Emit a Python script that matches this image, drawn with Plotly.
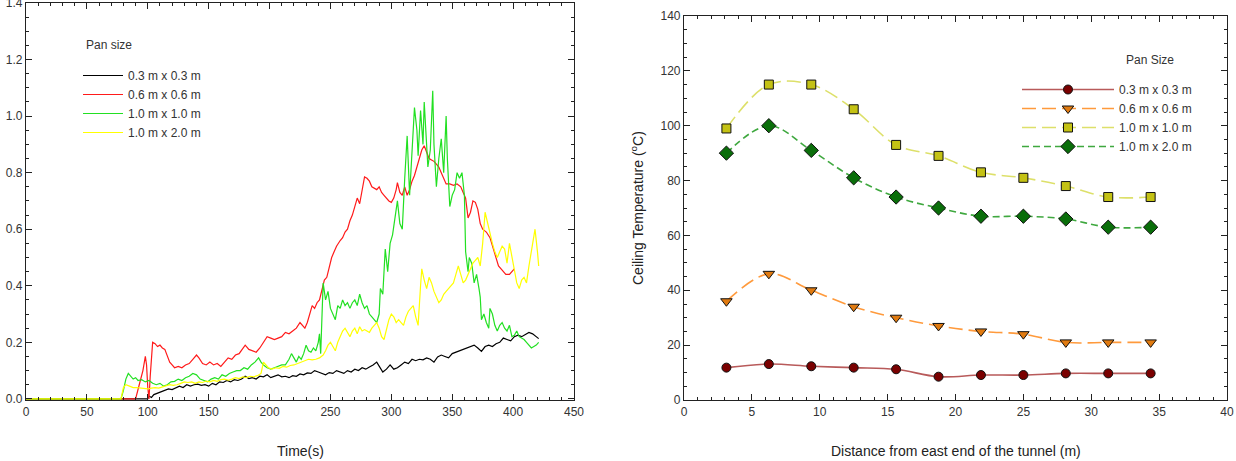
import plotly.graph_objects as go

W, H = 1236, 461

# ---------------- Left chart data (Time vs value) ----------------
t_black = [0, 100, 101, 103, 105, 108, 111, 114, 117, 120, 123, 126, 129, 132, 135, 138, 141, 144, 147, 150,
           153, 156, 159, 162, 165, 168, 171, 174, 177, 180, 183, 186, 189, 192, 195, 198, 201, 204, 207, 210,
           213, 216, 219, 222, 225, 228, 231, 234, 237, 240, 243, 246, 249, 252, 255, 258, 261, 264, 267, 270,
           273, 276, 279, 282, 285, 288, 291, 293, 296, 299, 302, 305, 308, 311, 314, 317, 320, 323, 326, 329,
           332, 335, 338, 341, 344, 347, 350, 353, 356, 359, 362, 365, 368, 371, 374, 377, 380, 383, 386, 389,
           392, 395, 398, 401, 404, 407, 410, 413, 416, 419, 421]
v_black = [0, 0, 0.01, 0.005, 0.015, 0.02, 0.025, 0.03, 0.035, 0.033, 0.04, 0.045, 0.04, 0.05, 0.045, 0.05, 0.052, 0.048, 0.05, 0.045,
           0.055, 0.05, 0.06, 0.058, 0.065, 0.06, 0.068, 0.065, 0.07, 0.08, 0.072, 0.075, 0.07, 0.08, 0.078, 0.085, 0.075, 0.08, 0.085, 0.078,
           0.08, 0.075, 0.082, 0.08, 0.088, 0.085, 0.092, 0.09, 0.1, 0.095, 0.09, 0.085, 0.093, 0.09, 0.1, 0.095, 0.09, 0.1, 0.095, 0.105,
           0.1, 0.11, 0.105, 0.113, 0.12, 0.13, 0.11, 0.095, 0.105, 0.12, 0.105, 0.11, 0.12, 0.13, 0.125, 0.14, 0.135, 0.14, 0.138, 0.145,
           0.14, 0.13, 0.148, 0.155, 0.15, 0.145, 0.16, 0.165, 0.17, 0.175, 0.18, 0.184, 0.19, 0.18, 0.168, 0.185, 0.19, 0.185, 0.195, 0.2,
           0.215, 0.21, 0.205, 0.22, 0.225, 0.22, 0.228, 0.235, 0.23, 0.22, 0.213]

t_red = [0, 90, 93, 96, 98, 99, 100, 101, 102, 104, 106, 108, 110, 112, 114, 116, 118, 120, 122, 125,
         128, 131, 134, 137, 140, 142, 145, 148, 151, 154, 157, 160, 163, 166, 169, 172, 175, 178, 180, 183,
         186, 189, 192, 195, 198, 201, 204, 207, 210, 213, 216, 219, 222, 225, 227, 229, 231, 233, 235, 237,
         239, 241, 243, 245, 247, 249, 251, 253, 255, 258, 260, 262, 264, 266, 268, 270, 272, 274, 276, 278,
         280, 282, 284, 286, 288, 290, 292, 294, 296, 298, 300, 302, 304, 305, 307, 309, 311, 313, 315, 317,
         319, 321, 323, 325, 327, 329, 331, 333, 335, 337, 339, 341, 343, 345, 348, 351, 354, 357, 359, 361,
         363, 365, 367, 369, 371, 373, 375, 378, 381, 384, 386, 388, 391, 394, 397, 399, 401]
v_red = [0, 0, 0.05, 0.1, 0.15, 0.12, 0.04, 0.0, 0.08, 0.2, 0.195, 0.185, 0.19, 0.18, 0.175, 0.15, 0.13, 0.12, 0.11, 0.115,
         0.11, 0.12, 0.125, 0.14, 0.155, 0.145, 0.125, 0.12, 0.13, 0.12, 0.125, 0.115, 0.13, 0.145, 0.14, 0.155, 0.16, 0.18, 0.19, 0.175,
         0.17, 0.165, 0.18, 0.2, 0.22, 0.215, 0.21, 0.215, 0.22, 0.235, 0.23, 0.24, 0.25, 0.27, 0.26, 0.25, 0.27, 0.3, 0.33, 0.32,
         0.34, 0.35, 0.39, 0.42, 0.43, 0.47, 0.5, 0.52, 0.54, 0.56, 0.57, 0.59, 0.6, 0.63, 0.65, 0.68, 0.71, 0.69, 0.74, 0.785,
         0.78, 0.77, 0.75, 0.745, 0.74, 0.75, 0.73, 0.72, 0.71, 0.7, 0.695, 0.71, 0.74, 0.765, 0.73, 0.72, 0.75, 0.72, 0.74, 0.77,
         0.79, 0.82, 0.85, 0.88, 0.895, 0.87, 0.85, 0.845, 0.84, 0.83, 0.82, 0.8, 0.78, 0.76, 0.76, 0.755, 0.76, 0.75, 0.73, 0.71,
         0.64, 0.66, 0.7, 0.695, 0.67, 0.62, 0.6, 0.59, 0.57, 0.53, 0.5, 0.47, 0.455, 0.44, 0.44, 0.45, 0.46]

t_green = [0, 78, 80, 82, 84, 86, 88, 90, 92, 95, 98, 101, 104, 107, 110, 113, 116, 119, 122, 125,
           128, 131, 134, 137, 140, 143, 146, 149, 152, 155, 158, 161, 164, 167, 170, 173, 176, 179, 182, 185,
           188, 191, 193, 195, 198, 201, 204, 207, 210, 213, 216, 218, 220, 222, 224, 226, 228, 230, 232, 234,
           236, 238, 240, 241, 242, 243, 244, 246, 248, 250, 252, 254, 256, 258, 260, 262, 264, 266, 268, 270,
           272, 274, 276, 278, 280, 282, 284, 286, 288, 290, 291, 293, 295, 297, 299, 301, 303, 305, 307, 309,
           311, 313, 315, 317, 319, 321, 322, 324, 326, 327, 329, 330, 332, 334, 335, 337, 339, 341, 343, 345,
           346, 348, 350, 352, 354, 356, 358, 360, 361, 363, 364, 366, 368, 370, 372, 373, 374, 376, 378, 380,
           381, 383, 385, 387, 389, 391, 393, 395, 397, 399, 401, 403, 405, 407, 409, 411, 413, 415, 417, 419, 421]
v_green = [0, 0, 0.03, 0.07, 0.09, 0.08, 0.07, 0.075, 0.065, 0.068, 0.06, 0.065, 0.055, 0.05, 0.055, 0.045, 0.05, 0.06, 0.062, 0.07,
           0.065, 0.075, 0.08, 0.09, 0.085, 0.07, 0.065, 0.06, 0.07, 0.075, 0.07, 0.085, 0.08, 0.09, 0.095, 0.1, 0.1, 0.11, 0.105, 0.12,
           0.13, 0.145, 0.13, 0.12, 0.11, 0.105, 0.11, 0.115, 0.12, 0.12, 0.14, 0.16, 0.145, 0.13, 0.15, 0.14, 0.16, 0.19, 0.17, 0.165,
           0.18, 0.17, 0.2, 0.23, 0.16, 0.3, 0.41, 0.35, 0.38, 0.32, 0.3, 0.28, 0.33, 0.32, 0.35, 0.33, 0.34, 0.32, 0.34, 0.35,
           0.33, 0.37, 0.34, 0.32, 0.33, 0.3, 0.29, 0.28, 0.27, 0.3, 0.39, 0.37, 0.53, 0.45, 0.55, 0.58, 0.65, 0.7, 0.62, 0.6,
           0.78, 0.93, 0.72, 0.88, 1.03, 0.95, 0.86, 1.02, 0.9, 1.05, 0.92, 0.82, 0.88, 1.09, 0.9, 0.75, 0.85, 0.92, 0.8, 1.0,
           0.85, 0.68, 0.72, 0.74, 0.8, 0.78, 0.8, 0.72, 0.52, 0.45, 0.5, 0.48, 0.41, 0.44, 0.39, 0.36, 0.28, 0.3, 0.27, 0.25,
           0.32, 0.3, 0.26, 0.24, 0.26, 0.27, 0.25, 0.24, 0.26, 0.22, 0.225, 0.24, 0.22, 0.215, 0.21, 0.2, 0.19, 0.18, 0.185, 0.19, 0.2]

t_yellow = [0, 78, 80, 82, 85, 88, 91, 94, 97, 100, 103, 106, 109, 112, 115, 118, 121, 124, 127, 130,
            133, 136, 139, 142, 145, 148, 151, 154, 157, 160, 163, 166, 169, 172, 175, 178, 181, 184, 187, 190,
            193, 195, 197, 199, 202, 205, 208, 211, 214, 217, 220, 223, 226, 229, 232, 235, 238, 241, 244, 246,
            248, 250, 252, 254, 256, 258, 260, 262, 264, 266, 268, 270, 272, 274, 276, 278, 280, 282, 284, 286,
            288, 290, 292, 294, 296, 298, 300, 302, 304, 306, 308, 310, 312, 314, 316, 318, 320, 322, 324, 325,
            327, 329, 331, 333, 335, 337, 339, 341, 343, 345, 347, 349, 351, 353, 355, 357, 359, 361, 363, 365,
            367, 369, 371, 373, 375, 377, 379, 381, 383, 385, 387, 389, 391, 393, 395, 397, 399, 401, 403, 405,
            407, 409, 411, 413, 415, 417, 418, 420, 421]
v_yellow = [0, 0, 0.04, 0.05, 0.045, 0.04, 0.04, 0.038, 0.035, 0.035, 0.038, 0.04, 0.038, 0.042, 0.045, 0.05, 0.048, 0.05, 0.055, 0.06,
            0.058, 0.06, 0.055, 0.06, 0.058, 0.063, 0.06, 0.065, 0.062, 0.068, 0.07, 0.066, 0.07, 0.075, 0.072, 0.078, 0.075, 0.08, 0.078, 0.082,
            0.09, 0.13, 0.12, 0.11, 0.105, 0.11, 0.108, 0.115, 0.112, 0.118, 0.12, 0.125, 0.13, 0.135, 0.14, 0.138, 0.14, 0.145, 0.155, 0.17,
            0.19, 0.2, 0.185, 0.17, 0.2, 0.22, 0.24, 0.25, 0.235, 0.22, 0.24, 0.25, 0.23, 0.255, 0.24, 0.245, 0.24, 0.235, 0.25, 0.26,
            0.27, 0.25, 0.22, 0.21, 0.25, 0.28, 0.3, 0.29, 0.27, 0.28, 0.27, 0.26, 0.29, 0.31, 0.32, 0.33, 0.29, 0.26, 0.4, 0.46,
            0.42, 0.39, 0.43, 0.41, 0.38, 0.36, 0.34, 0.35, 0.37, 0.38, 0.39, 0.4, 0.41, 0.44, 0.47, 0.44, 0.41, 0.42, 0.44, 0.46,
            0.48, 0.49, 0.5, 0.47, 0.55, 0.66, 0.62, 0.58, 0.55, 0.52, 0.5, 0.52, 0.54, 0.53, 0.48, 0.55, 0.5, 0.46, 0.41, 0.39,
            0.42, 0.43, 0.41, 0.47, 0.52, 0.56, 0.6, 0.52, 0.47]

left_names = ["0.3 m x 0.3 m", "0.6 m x 0.6 m", "1.0 m x 1.0 m", "1.0 m x 2.0 m"]
left_colors = ["#000000", "#ff1a1a", "#22e022", "#ffff00"]

# ---------------- Right chart data (Distance vs ceiling temperature) ----------------
distance = [3.125, 6.25, 9.375, 12.5, 15.625, 18.75, 21.875, 25.0, 28.125, 31.25, 34.375]
temp_03 = [11.8, 13.1, 12.3, 11.8, 11.2, 8.5, 9.1, 9.1, 9.7, 9.7, 9.7]
temp_06 = [36, 46, 40, 34, 30, 27, 25, 24, 21, 21, 21]
temp_10 = [99, 115, 115, 106, 93, 89, 83, 81, 78, 74, 74]
temp_20 = [90, 100, 91, 81, 74, 70, 67, 67, 66, 63, 63]

right_names = ["0.3 m x 0.3 m", "0.6 m x 0.6 m", "1.0 m x 1.0 m", "1.0 m x 2.0 m"]

FONT = "Liberation Sans, Arial, sans-serif"

fig = go.Figure()

left_t = [t_black, t_red, t_green, t_yellow]
left_v = [v_black, v_red, v_green, v_yellow]
for t, v, n, c in zip(left_t, left_v, left_names, left_colors):
    fig.add_trace(go.Scatter(x=t, y=v, mode="lines", name=n,
                             line=dict(color=c, width=1.2),
                             xaxis="x", yaxis="y", legend="legend"))

right_series = [temp_03, temp_06, temp_10, temp_20]
line_colors = ["#b85a5a", "#ff9a3c", "#dde06a", "#3fa83f"]
marker_colors = ["#7a0000", "#e07a10", "#c4c214", "#0a6e0a"]
symbols = ["circle", "triangle-down", "square", "diamond"]
dashes = ["solid", "14px,6px", "14px,6px", "7px,4px"]
sizes = [9, 10, 9, 11]
for y, n, lc, mc, s, d, sz in zip(right_series, right_names, line_colors, marker_colors, symbols, dashes, sizes):
    fig.add_trace(go.Scatter(x=distance, y=y, mode="lines+markers", name=n,
                             line=dict(color=lc, width=1.6, dash=d, shape="spline", smoothing=1.0),
                             marker=dict(symbol=s, size=sz, color=mc, line=dict(color="#111111", width=1)),
                             xaxis="x2", yaxis="y2", legend="legend2"))

axis_common = dict(showline=True, linecolor="#222222", linewidth=1.2, mirror="allticks",
                   ticks="inside", ticklen=6, tickwidth=1, tickcolor="#222222",
                   showgrid=False, zeroline=False, automargin=False,
                   ticklabeloverflow="allow",
                   tickfont=dict(family=FONT, size=12, color="#333333"))

TITLE_FONT = dict(family=FONT, size=14, color="#222222")
LEG_FONT = dict(family=FONT, size=12, color="#333333")

fig.update_layout(
    width=W, height=H,
    margin=dict(l=0, r=0, t=0, b=0, autoexpand=False),
    paper_bgcolor="white", plot_bgcolor="white",
    font=dict(family=FONT, size=12, color="#222222"),
    xaxis=dict(domain=[26 / W, 574 / W], range=[0, 450], dtick=50, tick0=0,
               minor=dict(dtick=10, ticks="inside", ticklen=3, tickcolor="#222222"),
               anchor="y", **axis_common),
    yaxis=dict(domain=[1 - 400 / H, 1 - 3 / H], range=[-0.004, 1.4], dtick=0.2, tick0=0, tickformat=".1f",
               minor=dict(dtick=0.05, ticks="inside", ticklen=3, tickcolor="#222222"),
               anchor="x", **axis_common),
    xaxis2=dict(domain=[684 / W, 1227 / W], range=[0, 40], dtick=5, tick0=0,
                minor=dict(dtick=1, ticks="inside", ticklen=3, tickcolor="#222222"),
                anchor="y2", **axis_common),
    yaxis2=dict(domain=[1 - 400 / H, 1 - 16 / H], range=[0, 140], dtick=20, tick0=0,
                minor=dict(dtick=5, ticks="inside", ticklen=3, tickcolor="#222222"),
                anchor="x2", **axis_common),
    legend=dict(x=78 / W, y=1 - 61 / H, xanchor="left", yanchor="top",
                bgcolor="rgba(0,0,0,0)", font=LEG_FONT, tracegroupgap=0, itemwidth=40),
    legend2=dict(x=1017 / W, y=1 - 75 / H, xanchor="left", yanchor="top",
                 bgcolor="rgba(0,0,0,0)", font=LEG_FONT, tracegroupgap=0, itemwidth=92),
    showlegend=True,
    annotations=[
        dict(text="Pan size", x=84 / W, y=1 - 45 / H, xref="paper", yref="paper",
             xanchor="left", yanchor="middle", showarrow=False, font=LEG_FONT),
        dict(text="Pan Size", x=1124 / W, y=1 - 60 / H, xref="paper", yref="paper",
             xanchor="left", yanchor="middle", showarrow=False, font=LEG_FONT),
        dict(text="Time(s)", x=300 / W, y=1 - 451 / H, xref="paper", yref="paper",
             xanchor="center", yanchor="middle", showarrow=False, font=TITLE_FONT),
        dict(text="Distance from east end of the tunnel (m)", x=956 / W, y=1 - 451 / H,
             xref="paper", yref="paper", xanchor="center", yanchor="middle",
             showarrow=False, font=TITLE_FONT),
        dict(text="Ceiling Temperature (<sup>o</sup>C)", x=637 / W, y=1 - 208 / H,
             xref="paper", yref="paper", xanchor="center", yanchor="middle",
             textangle=-90, showarrow=False, font=TITLE_FONT),
    ],
)

# the page's default body margin would offset the figure; remove it
fig.write_html("out.html", config={"displayModeBar": False},
               post_script="document.body.style.margin='0';document.body.style.overflow='hidden';")
